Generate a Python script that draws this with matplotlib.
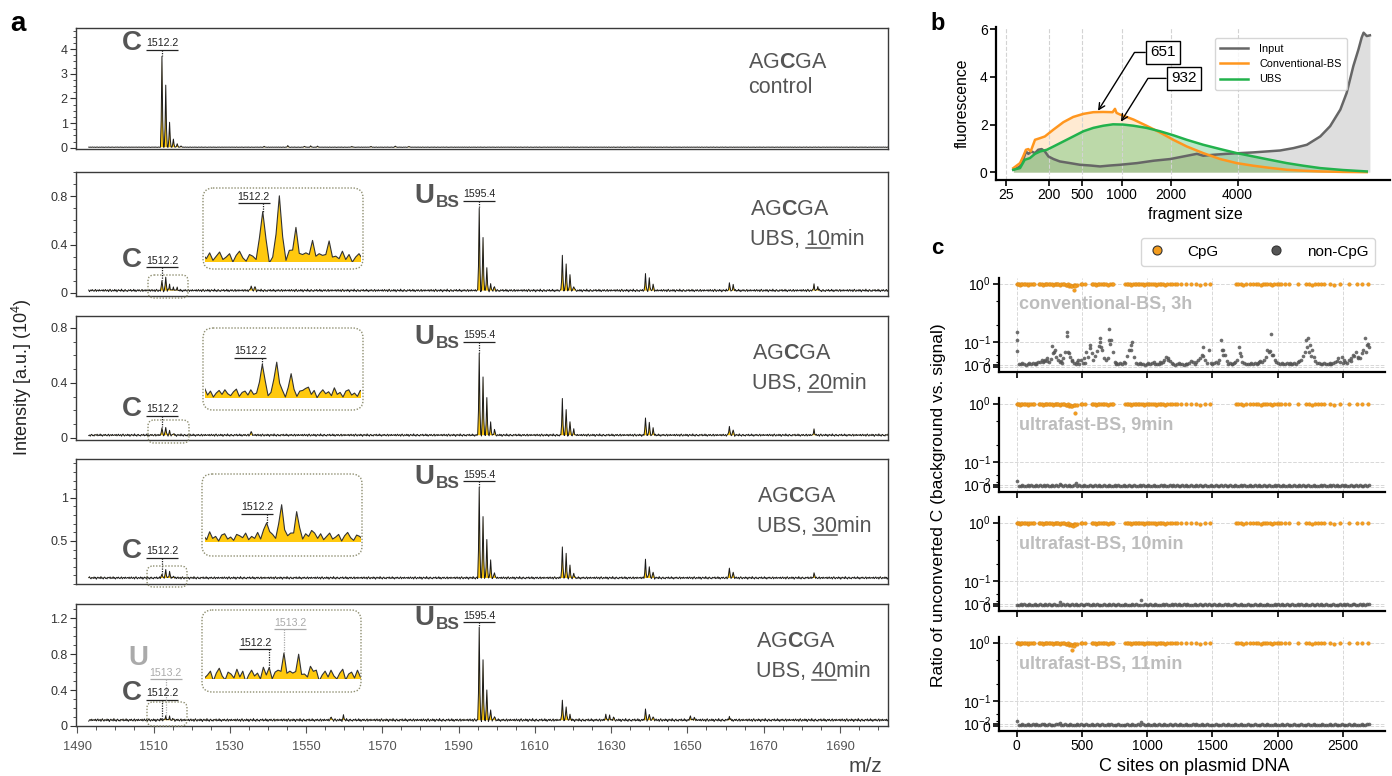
import numpy as np
import matplotlib
matplotlib.use('Agg')
import matplotlib.pyplot as plt
import matplotlib.transforms as mtransforms
from matplotlib.patches import FancyBboxPatch
from matplotlib.lines import Line2D
from matplotlib.ticker import FixedLocator, MultipleLocator, NullFormatter

plt.rcParams['font.family'] = ['Liberation Sans', 'DejaVu Sans']
plt.rcParams['mathtext.fontset'] = 'custom'
plt.rcParams['mathtext.rm'] = 'Liberation Sans'
plt.rcParams['mathtext.it'] = 'Liberation Sans:italic'
plt.rcParams['mathtext.bf'] = 'Liberation Sans:bold'

# ======================= DATA =======================
# ---- panel a : mass spectra (sampling grid, baseline texture, peak lists) ----
mz_start = 1493.0
mz_step = 0.2
mz_count = 1049
noise_pattern = [3, -2, 5, -4, 1, 6, -3, 0, 4, -6, 2, 7, -1, -5, 3, 1, -3, 6, -2, 4,
                 -7, 0, 5, -1, 2, -4, 8, -2, 1, -6, 3, 5, -3, 0, -5, 4, 2, -1, 6, -4,
                 1, -2, 7, -3, 3, -6, 0, 4, -2, 5, -1, -4, 2, 6, -5, 1, 3, -3, 5, -2, 0]
base_level = [0.02, 0.02, 0.02, 0.07, 0.065]
noise_amp = [0.012, 0.015, 0.012, 0.02, 0.022]

ctrl_mz = [1512.2, 1513.2, 1514.2, 1515.2, 1516.2, 1517.2, 1539.0, 1545.3, 1549.6, 1551.3,
           1553.0, 1562.0, 1567.0, 1573.5, 1577.0]
ctrl_h = [3.68, 2.52, 1.02, 0.33, 0.14, 0.05, 0.03, 0.06, 0.04, 0.05,
          0.04, 0.03, 0.03, 0.04, 0.03]
ubs10_mz = [1512.2, 1513.2, 1514.2, 1515.2, 1516.2, 1535.6, 1536.6, 1595.4, 1596.4, 1597.4,
            1598.4, 1599.4, 1617.3, 1618.3, 1619.3, 1620.3, 1639.1, 1640.1, 1641.1, 1660.9,
            1661.9, 1683.3, 1684.3]
ubs10_h = [0.085, 0.112, 0.052, 0.03, 0.02, 0.045, 0.035, 0.68, 0.44, 0.18,
           0.05, 0.035, 0.29, 0.22, 0.13, 0.04, 0.13, 0.10, 0.05, 0.06,
           0.045, 0.05, 0.03]
ubs20_mz = [1512.2, 1513.2, 1514.2, 1515.2, 1535.6, 1595.4, 1596.4, 1597.4, 1598.4, 1599.4,
            1617.3, 1618.3, 1619.3, 1620.3, 1639.1, 1640.1, 1641.1, 1660.9, 1661.9, 1683.3]
ubs20_h = [0.055, 0.06, 0.027, 0.012, 0.03, 0.60, 0.42, 0.27, 0.09, 0.04,
           0.26, 0.19, 0.10, 0.04, 0.13, 0.09, 0.05, 0.07, 0.04, 0.04]
ubs30_mz = [1512.2, 1513.2, 1514.2, 1515.2, 1595.4, 1596.4, 1597.4, 1598.4, 1599.4, 1617.3,
            1618.3, 1619.3, 1620.3, 1639.1, 1640.1, 1641.1, 1660.9, 1661.9, 1683.3]
ubs30_h = [0.055, 0.10, 0.075, 0.02, 1.06, 0.72, 0.44, 0.20, 0.07, 0.36,
           0.27, 0.14, 0.05, 0.21, 0.14, 0.07, 0.12, 0.07, 0.06]
ubs40_mz = [1512.2, 1513.2, 1514.2, 1515.2, 1556.6, 1559.8, 1595.4, 1596.4, 1597.4, 1598.4,
            1599.4, 1617.3, 1618.3, 1619.3, 1628.6, 1629.6, 1630.6, 1639.1, 1640.1, 1641.1,
            1650.7, 1651.7, 1660.9]
ubs40_h = [0.015, 0.05, 0.034, 0.015, 0.04, 0.05, 1.02, 0.66, 0.34, 0.12,
           0.04, 0.22, 0.16, 0.06, 0.06, 0.045, 0.03, 0.12, 0.07, 0.04,
           0.05, 0.03, 0.04]
c_peak = 1512.2
u_peak = 1513.2
ubs_peak = 1595.4
c_peak_label = '1512.2'
u_peak_label = '1513.2'
ubs_peak_label = '1595.4'
sample_seq = r'AG$\mathbf{C}$GA'
sample_cond = ['control', '10', '20', '30', '40']
a_ytick_vals = [[0, 1, 2, 3, 4], [0, 0.4, 0.8], [0, 0.4, 0.8], [0.5, 1.0], [0, 0.4, 0.8, 1.2]]
a_ytick_labels = [['0', '1', '2', '3', '4'], ['0', '0.4', '0.8'], ['0', '0.4', '0.8'],
                  ['0.5', '1'], ['0', '0.4', '0.8', '1.2']]
a_xticks = [1490, 1510, 1530, 1550, 1570, 1590, 1610, 1630, 1650, 1670, 1690]

# ---- panel b : fragment size traces (migration-time axis, ladder) ----
ladder_bp = [25, 200, 500, 1000, 2000, 4000]
ladder_t = [2.5, 13.5, 21.8, 31.9, 44.4, 61.3]
b_input_t = [4.4, 6.1, 6.9, 7.6, 8.2, 9.0, 9.9, 10.7, 11.6, 12.4,
             13.3, 14.6, 16.2, 18.8, 21.3, 23.9, 26.4, 29.0, 31.5, 35.8,
             40.0, 44.2, 47.6, 51.0, 52.6, 55.2, 58.5, 61.9, 65.3, 68.7,
             72.1, 75.5, 78.9, 82.3, 84.8, 87.4, 89.0, 90.7, 92.0, 92.8,
             93.3, 94.1, 94.9]
b_input_y = [0.10, 0.24, 0.52, 0.87, 0.77, 0.87, 0.80, 0.94, 0.97, 0.87,
             0.66, 0.55, 0.45, 0.38, 0.31, 0.28, 0.24, 0.28, 0.31, 0.38,
             0.48, 0.55, 0.66, 0.77, 0.69, 0.73, 0.77, 0.80, 0.83, 0.87,
             0.91, 1.01, 1.15, 1.50, 1.93, 2.63, 3.33, 4.46, 5.16, 5.65,
             5.86, 5.72, 5.75]
b_conv_t = [4.4, 6.1, 6.9, 7.6, 8.2, 8.8, 9.9, 11.2, 12.4, 14.6,
            17.1, 19.6, 22.2, 24.7, 27.2, 29.6, 30.2, 30.6, 31.5, 34.9,
            38.2, 41.6, 45.0, 48.4, 52.6, 56.9, 61.1, 65.3, 69.5, 73.8,
            78.0, 82.3, 88.0, 94.1]
b_conv_y = [0.17, 0.38, 0.66, 0.94, 0.97, 0.87, 1.36, 1.43, 1.50, 1.79,
            2.10, 2.32, 2.45, 2.52, 2.53, 2.52, 2.66, 2.49, 2.42, 2.21,
            1.95, 1.67, 1.36, 1.08, 0.80, 0.55, 0.38, 0.27, 0.18, 0.10,
            0.06, 0.03, 0.01, 0.0]
b_ubs_t = [4.4, 6.1, 7.3, 8.6, 9.9, 11.2, 12.9, 14.6, 17.1, 19.6,
           22.2, 24.7, 27.2, 29.7, 32.3, 34.9, 38.2, 41.6, 45.0, 48.4,
           52.6, 56.9, 61.1, 65.3, 69.5, 73.8, 78.0, 82.3, 88.0, 94.1]
b_ubs_y = [0.10, 0.17, 0.52, 0.59, 0.77, 0.87, 0.94, 1.08, 1.29, 1.50,
           1.72, 1.86, 1.95, 2.01, 2.00, 1.95, 1.86, 1.72, 1.55, 1.36,
           1.15, 0.97, 0.80, 0.66, 0.52, 0.38, 0.27, 0.17, 0.09, 0.03]
b_labels = ['Input', 'Conventional-BS', 'UBS']
mode_sizes = [651, 932]
mode_t = [25.9, 31.7]
mode_y = [2.58, 2.12]

# ---- panel c : unconverted-C ratio per C site ----
cpg_pos = np.array("""
2 10 18 27 35 44 52 61 75 88 97 110 124 135
170 182 191 203 214 222 235 244 256 268 277 290 301 312 320 333 342 355 366 378
384 392 401 410 418 427 436 448 460
490 503 522
575 588 597 609 620 634 645 658 671 684 697 712 728 741
830 842 855 866 880 893 905 918 930 941 954 967 979 992 1005 1018 1030 1043 1057 1070
1084 1096 1110 1125 1140 1156 1172 1190 1210 1228
1262 1297 1335 1372 1405 1445 1485
1683 1700 1722 1738 1760 1790 1810 1836 1851 1870 1888 1905 1921 1940 1958 1975 1992
2010 2030 2060 2090
2155 2222 2240 2262 2290 2310 2335 2355 2400 2430 2480
2548 2610 2650 2690
""".split(), float)
cpg_ratio_pct = np.array("""
98 97 99 96 98 100 97 99 98 96 99 97 98 100
97 99 98 96 99 97 100 98 97 99 96 98 97 99 98 95 97 99 98 96
94 97 92 95 90 93 96 94 96
98 97 99
97 99 98 96 98 97 99 100 98 97 96 98 99 97
98 97 99 98 96 98 100 97 99 98 97 99 96 98 97 99 98 100 97 96
98 99 97 98 96 99 97 98 97 99
98 97 99 98 96 98 97
97 99 98 96 98 97 99 98 97 96 98 99 97 98 96 99 97
98 97 99 98
97 99 98 96 98 97 99 98 97 96 98
98 97 99 97
""".split(), float)
cpg_extra_pos = [[436, 448], [448], [430, 445], [425, 440]]
cpg_extra_val = [[0.78, 0.90], [0.70], [0.88, 0.90], [0.75, 0.88]]

noncpg_pos = np.array("""
4 15 29 41 56 70 83 97 110 124
137 151 166 179 192 206 220 233 247 261
274 288 302 315 329 343 356 369 383 397
410 424 438 451 465 478 492 506 519 533
547 560 574 588 601 615 628 642 656 669
683 697 710 724 737 751 765 778 792 806
819 833 846 860 874 887 901 915 928 942
955 969 983 996 1010 1023 1037 1051 1064 1078
1092 1105 1119 1132 1146 1160 1173 1187 1200 1214
1228 1241 1255 1269 1282 1296 1309 1323 1337 1350
1364 1377 1391 1405 1418 1432 1446 1459 1473 1486
1500 1514 1527 1541 1554 1568 1582 1595 1609 1623
1636 1650 1663 1677 1691 1704 1718 1731 1745 1759
1772 1786 1800 1813 1827 1840 1854 1868 1881 1895
1908 1922 1936 1949 1963 1977 1990 2004 2017 2031
2045 2058 2072 2085 2099 2113 2126 2140 2154 2167
2181 2194 2208 2222 2235 2249 2262 2276 2290 2303
2317 2331 2344 2358 2371 2385 2399 2412 2426 2439
2453 2467 2480 2494 2508 2521 2535 2548 2562 2576
2589 2603 2616 2630 2644 2657 2671 2685 2698
""".split(), float)
conv_e3 = """
150 14 11 16 12 10 13 18 12 15
11 14 22 19 28 24 30 26 21 33
85 60 42 30 48 25 36 60 150 55
40 28 18 12 22 14 30 18 35 60
42 75 55 30 45 65 85 120 70 38
28 35 170 110 60 22 15 12 18 14
20 16 45 70 90 100 40 18 12 15
11 14 10 13 18 12 15 20 13 11
14 18 22 30 40 35 25 15 12 10
12 15 11 13 10 14 12 16 25 20
14 22 28 35 50 80 30 18 70 15
12 15 20 18 30 110 70 50 25 14
18 12 16 22 30 80 45 20 15 12
14 11 15 12 18 14 20 25 22 30
40 70 60 140 50 30 20 15 12 18
14 11 16 13 18 12 15 14 20 25
30 45 60 110 120 90 70 40 25 18
15 12 14 18 11 13 16 12 15 20
25 35 22 40 30 20 15 28 35 50
45 60 40 35 55 70 120 90 80
"""
ubs9_e3 = """
25 6 5 7 4 6 8 5 7 6
5 7 6 8 5 9 6 7 5 6
7 5 8 6 12 7 5 9 6 8
6 5 7 15 6 8 5 6 7 5
6 7 5 6 8 5 7 6 5 7
5 6 7 5 6 8 5 7 6 5
7 5 6 8 5 6 7 5 6 8
5 7 6 5 8 6 5 7 6 5
6 8 5 7 6 5 7 6 8 5
7 5 6 7 5 8 6 5 7 6
5 7 6 8 5 6 7 5 6 7
6 5 7 6 5 8 6 7 5 6
7 6 5 7 6 5 8 6 7 5
6 7 5 6 8 5 7 6 5 7
5 6 7 5 6 8 5 7 6 5
7 5 6 8 5 6 7 5 6 8
5 7 6 5 8 6 5 7 6 5
6 8 5 7 6 5 7 6 8 5
7 5 6 7 5 8 6 5 7 6
5 7 6 8 5 6 7 5 9
"""
ubs10_e3 = """
6 5 7 6 8 5 6 7 5 6
7 6 5 8 6 5 7 6 8 5
5 7 6 5 18 6 8 5 7 6
6 8 5 7 6 5 9 6 5 7
7 5 6 8 5 7 6 5 6 8
5 6 8 5 7 6 5 8 6 5
6 7 5 6 5 8 6 7 5 6
25 6 7 5 6 8 5 6 7 5
6 5 8 6 7 5 6 8 5 7
5 7 6 5 8 6 7 5 6 5
7 5 6 7 5 6 8 5 7 6
5 8 6 5 7 6 5 7 6 8
6 5 7 8 5 6 7 5 6 5
7 6 5 6 8 5 6 7 5 6
5 7 6 5 6 7 5 8 6 7
6 5 8 6 5 7 6 5 7 6
7 6 5 7 6 5 8 6 5 7
5 8 6 5 7 6 5 6 8 6
6 5 7 6 8 5 7 5 6 7
7 6 5 8 6 7 5 8 9
"""
ubs11_e3 = """
22 5 6 7 5 6 8 5 6 7
6 7 5 6 8 7 5 6 7 5
5 6 7 8 12 5 6 7 5 6
7 5 6 5 7 6 8 5 6 7
5 6 8 6 5 7 5 6 8 5
6 7 5 7 6 5 6 7 5 6
5 6 7 5 6 7 5 6 7 5
15 7 5 6 7 5 6 7 5 6
7 5 6 7 5 6 8 5 6 7
5 6 7 5 6 7 5 6 5 7
6 7 5 6 7 5 6 7 5 6
5 6 7 5 6 5 7 6 5 7
6 5 6 7 5 6 7 5 6 5
7 6 5 6 7 5 6 5 7 6
5 7 6 5 6 7 5 6 5 7
6 5 7 6 5 6 7 5 6 5
7 6 5 6 7 5 6 7 5 6
5 6 7 5 6 5 7 6 5 7
6 5 6 7 5 6 5 7 6 5
7 6 5 6 7 5 6 7 8
"""
conv_extra_pos = [4, 4, 280, 290, 383, 390, 560, 642, 650, 710,
                  715, 880, 1430, 1575, 1580, 1710, 1945, 1955, 2228, 2240,
                  2255, 2675, 2690, 150, 200, 230, 330, 350, 420, 470,
                  520, 760, 1100, 1160, 1300, 1650, 1850, 2100, 2400, 2500,
                  2560, 2620]
conv_extra_e3 = [110, 65, 55, 70, 130, 60, 90, 100, 80, 110,
                 95, 70, 45, 70, 50, 55, 65, 50, 80, 60,
                 45, 60, 95, 16, 20, 35, 22, 18, 24, 30,
                 15, 12, 20, 28, 11, 14, 16, 12, 14, 18,
                 25, 38]
c_titles = ['conventional-BS, 3h', 'ultrafast-BS, 9min', 'ultrafast-BS, 10min', 'ultrafast-BS, 11min']
c_xticks = [0, 500, 1000, 1500, 2000, 2500]

# ======================= FIGURE / LAYOUT =======================
W, H = 1392, 776
fig = plt.figure(figsize=(W / 100, H / 100), dpi=100)
PX = mtransforms.Affine2D().scale(1 / W, -1 / H).translate(0, 1) + fig.transFigure
R = fig.canvas.get_renderer()
PT = 0.72
YEL = '#ffc90e'
GR = '#555555'
BOXC = '#8e8e70'


def add_ax(l, t, r, b):
    return fig.add_axes([l / W, 1 - b / H, (r - l) / W, (b - t) / H])


def ftext(px, py, s, **kw):
    return fig.text(px / W, 1 - py / H, s, **kw)


def rbox(l, t, r, b, rad):
    p = FancyBboxPatch((l, t), r - l, b - t, boxstyle='round,pad=0,rounding_size=%g' % rad,
                       transform=PX, fill=False, ec=BOXC, lw=1.0, ls=(0, (1, 1.2)))
    fig.add_artist(p)


def text_width(s, size):
    t = fig.text(0, 0, s, fontsize=size)
    w = t.get_window_extent(renderer=R).width
    t.remove()
    return w


def cond_text(px, base_py, minutes, size, color):
    prefix = 'UBS, ' + minutes
    ftext(px, base_py, prefix + 'min', fontsize=size, color=color, ha='left', va='baseline')
    w_pre = text_width(prefix, size)
    w_num = text_width(minutes, size)
    x1 = px + w_pre
    x0 = x1 - w_num
    fig.add_artist(Line2D([x0, x1], [base_py + 3, base_py + 3], transform=PX, color=color, lw=1.1))


def peak_label(ax, xm, ul_y, top_y, txt, ppu, color='#222222', dx=0, hw=16, fs=7.6):
    xc = xm + dx / ppu
    ax.annotate(txt, xy=(xc, ul_y), xytext=(0, 1.2), textcoords='offset points', ha='center',
                va='bottom', fontsize=fs, color=color, annotation_clip=False)
    ax.plot([xc - hw / ppu, xc + hw / ppu], [ul_y, ul_y], color=color, lw=0.9, clip_on=False,
            solid_capstyle='butt')
    ax.plot([xm, xm], [ul_y, top_y], color=color, lw=0.9, ls=(0, (1, 1)), clip_on=False)


def sized(pos, vals):
    n = min(len(pos), len(vals))
    return np.asarray(pos, float)[:n], np.asarray(vals, float)[:n]


# ---------------- panel a ----------------
mz = mz_start + mz_step * np.arange(mz_count)
noise_arr = np.array(noise_pattern, float) / 10.0
peak_sets = [(ctrl_mz, ctrl_h), (ubs10_mz, ubs10_h), (ubs20_mz, ubs20_h),
             (ubs30_mz, ubs30_h), (ubs40_mz, ubs40_h)]


def build_spectrum(k):
    pm, ph = peak_sets[k]
    y = base_level[k] + noise_amp[k] * np.resize(np.roll(noise_arr, 17 * k), mz_count)
    for m, h in zip(pm, ph):
        i = int(round((m - mz_start) / mz_step))
        y[i] += h
        y[i - 1] += 0.3 * h
        y[i + 1] += 0.3 * h
    return y


def top_at(y, m):
    return y[int(round((m - mz_start) / mz_step))]


a_boxes = [(76, 28, 888, 149), (76, 172, 888, 296), (76, 316, 888, 440),
           (76, 459, 888, 584), (76, 604, 888, 726)]
a_ylims = [(-0.053, 4.86), (-0.025, 1.0), (-0.015, 0.887), (0.0, 1.45), (0.0, 1.356)]
a_minor = [0.25, 0.1, 0.1, 0.1, 0.1]
a_xlim = (1489.66, 1702.6)
ppu_a = (888 - 76) / (a_xlim[1] - a_xlim[0])
c_ul = [3.97, 0.212, 0.16, 0.30, 0.29]
ubs_ul = [None, 0.763, 0.70, 1.19, 1.152]
u_ul = 0.52
text_x = [748, 750, 752, 757, 756]
cbox = [None, (148, 275, 188, 298), (148, 420, 189, 443), (147, 566, 187, 587), (147, 702, 187, 726)]
ins_box = [None, (203, 188, 363, 269), (203, 328, 363, 410), (202, 474, 362, 556), (202, 610, 361, 692)]
ins_area = [None, (205, 190, 361, 262), (205, 335, 361, 398), (205, 478, 361, 542), (205, 612, 361, 679)]
ins_xlim = [None, (1508.72, 1518.12), (1508.22, 1519.05), (1508.09, 1518.49), (1507.83, 1518.44)]
ins_ylim = [None, (0.011, 0.141), (0.011, 0.126), (0.055, 0.249), (0.056, 0.208)]
ins_ul = [None, 0.117, 0.084, 0.14, 0.123]
ins_dx = [None, -9, -12, -9.5, -14]

for k in range(5):
    l, t, r, b = a_boxes[k]
    ax = add_ax(l, t, r, b)
    y = build_spectrum(k)
    ax.fill_between(mz, base_level[k], y, where=y > base_level[k], interpolate=True,
                    color=YEL, lw=0)
    ax.plot(mz, y, color='#1a1a1a', lw=0.7)
    ax.set_xlim(*a_xlim)
    ax.set_ylim(*a_ylims[k])
    for s in ax.spines.values():
        s.set_color('#3a3a3a')
        s.set_linewidth(1.0)
    ax.set_yticks(a_ytick_vals[k])
    ax.set_yticklabels(a_ytick_labels[k])
    ax.yaxis.set_minor_locator(MultipleLocator(a_minor[k]))
    ax.tick_params(axis='y', which='major', labelsize=9, colors='#333333', length=4, width=0.8,
                   pad=2)
    ax.tick_params(axis='y', which='minor', length=2.2, width=0.6, colors='#333333')
    if k < 4:
        ax.set_xticks([])
    else:
        ax.set_xticks(a_xticks)
        ax.xaxis.set_minor_locator(MultipleLocator(5))
        ax.tick_params(axis='x', which='major', labelsize=9.3, colors='#555555', length=5,
                       width=0.8, pad=6)
        ax.tick_params(axis='x', which='minor', length=3, width=0.7, colors='#555555')

    # C label
    peak_label(ax, c_peak, c_ul[k], top_at(y, c_peak) + 0.004 * (a_ylims[k][1]), c_peak_label, ppu_a)
    ax.annotate('C', xy=(c_peak, c_ul[k]), xytext=(-20 * PT, 0), textcoords='offset points',
                ha='right', va='baseline', fontsize=20, fontweight='bold', color=GR,
                annotation_clip=False)
    if k == 4:
        peak_label(ax, u_peak, u_ul, top_at(y, u_peak), u_peak_label, ppu_a, color='#aaaaaa')
        ax.annotate('U', xy=(u_peak, u_ul), xytext=(-17.3 * PT, 14 * PT),
                    textcoords='offset points', ha='right', va='baseline', fontsize=20,
                    fontweight='bold', color='#aaaaaa', annotation_clip=False)
    if k > 0:
        peak_label(ax, ubs_peak, ubs_ul[k], top_at(y, ubs_peak), ubs_peak_label, ppu_a)
        ax.annotate('U', xy=(ubs_peak, ubs_ul[k]), xytext=(-45 * PT, -2.6 * PT),
                    textcoords='offset points', ha='right', va='baseline', fontsize=20,
                    fontweight='bold', color=GR, annotation_clip=False)
        ax.annotate('BS', xy=(ubs_peak, ubs_ul[k]), xytext=(-43.6 * PT, -6.6 * PT),
                    textcoords='offset points', ha='left', va='baseline', fontsize=12.4,
                    fontweight='bold', color=GR, annotation_clip=False)
        rbox(*cbox[k], 6)
        rbox(*ins_box[k], 10)
        # inset
        il, it, ir, ib = ins_area[k]
        axi = add_ax(il, it, ir, ib)
        axi.set_xlim(*ins_xlim[k])
        axi.set_ylim(*ins_ylim[k])
        axi.axis('off')
        axi.fill_between(mz, ins_ylim[k][0], y, color=YEL, lw=0)
        axi.plot(mz, y, color='#333333', lw=0.8)
        ppu_i = (ir - il) / (ins_xlim[k][1] - ins_xlim[k][0])
        peak_label(axi, c_peak, ins_ul[k], top_at(y, c_peak), c_peak_label, ppu_i, dx=ins_dx[k])
        if k == 4:
            peak_label(axi, u_peak, 0.169, top_at(y, u_peak), u_peak_label, ppu_i,
                       color='#aaaaaa', dx=6)

    # sample description
    base1 = t + (40 if k == 0 else 43)
    base2 = t + (65 if k == 0 else 73)
    ftext(text_x[k], base1, sample_seq, fontsize=15.5, color=GR, ha='left', va='baseline')
    if k == 0:
        ftext(text_x[k], base2, sample_cond[0], fontsize=15.5, color=GR, ha='left', va='baseline')
    else:
        cond_text(text_x[k], base2, sample_cond[k], 15.5, GR)

ftext(22, 377, r'Intensity [a.u.] (10$^4$)', rotation=90, ha='center', va='center',
      fontsize=13, color='#222222')
ftext(865, 772, 'm/z', ha='center', va='baseline', fontsize=15, color='#444444')
ftext(10, 31, 'a', fontsize=20, fontweight='bold', va='baseline', ha='left')

# ---------------- panel b ----------------
axb = add_ax(996, 27, 1390, 180)
axb.fill_between(b_input_t, 0, b_input_y, color='#8a8a8a', alpha=0.28, lw=0)
axb.fill_between(b_conv_t, 0, b_conv_y, color='#ff9a1f', alpha=0.2, lw=0)
axb.fill_between(b_ubs_t, 0, b_ubs_y, color='#22b24c', alpha=0.3, lw=0)
l1, = axb.plot(b_input_t, b_input_y, color='#666666', lw=1.8)
l2, = axb.plot(b_conv_t, b_conv_y, color='#ff961e', lw=1.8)
l3, = axb.plot(b_ubs_t, b_ubs_y, color='#22b24c', lw=1.8)
axb.set_xlim(0, 100)
axb.set_ylim(-0.33, 6.1)
axb.set_xticks(ladder_t)
axb.set_xticklabels([str(v) for v in ladder_bp])
axb.set_yticks([0, 2, 4, 6])
axb.grid(axis='x', ls='--', color='#d3d3d3', lw=0.8)
for s in ['top', 'right']:
    axb.spines[s].set_visible(False)
for s in ['left', 'bottom']:
    axb.spines[s].set_linewidth(1.6)
axb.tick_params(labelsize=10, length=4, width=1.2, pad=2)
axb.legend([l1, l2, l3], b_labels, loc='center', bbox_to_anchor=((1281 - 996) / 394, 1 - (64 - 27) / 153),
           fontsize=7.8, frameon=True, edgecolor='#cccccc', fancybox=True, handlelength=2.6,
           borderpad=0.5, labelspacing=0.5, handletextpad=1.0)
box_xy = [(42.4, 5.03), (47.7, 3.94)]
for v, tt, yy, (bx, by) in zip(mode_sizes, mode_t, mode_y, box_xy):
    axb.annotate(str(v), xy=(tt, yy), xytext=(bx, by), ha='center', va='center', fontsize=11,
                 bbox=dict(boxstyle='square,pad=0.3', fc='white', ec='black', lw=1.0),
                 arrowprops=dict(arrowstyle='->', color='black', lw=1.0, shrinkA=0, shrinkB=0,
                                 connectionstyle='angle,angleA=0,angleB=58,rad=0'))
ftext(962, 103, 'fluorescence', rotation=90, ha='center', va='center', fontsize=11.3)
ftext(1195, 219, 'fragment size', ha='center', va='baseline', fontsize=11.3)
ftext(930, 30, 'b', fontsize=17, fontweight='bold', va='baseline', ha='left')

# ---------------- panel c ----------------
c_tops = [278, 398, 517, 637]
c_bots = [372, 492, 611, 731]
noncpg_sets = [conv_e3, ubs9_e3, ubs10_e3, ubs11_e3]
CPGC = '#f39c1e'
NCC = '#555555'
for k in range(4):
    ax = add_ax(999, c_tops[k], 1385, c_bots[k])
    ax.set_yscale('symlog', linthresh=0.1, linscale=0.38)
    px_, vy_ = sized(noncpg_pos, np.array(noncpg_sets[k].split(), float) / 1000.0)
    ax.scatter(px_, vy_, s=7, color=NCC, alpha=0.85, lw=0, zorder=3)
    if k == 0:
        ex_, ey_ = sized(conv_extra_pos, np.array(conv_extra_e3) / 1000.0)
        ax.scatter(ex_, ey_, s=7, color=NCC, alpha=0.85, lw=0, zorder=3)
    cx_, cy_ = sized(cpg_pos, cpg_ratio_pct / 100.0)
    ax.scatter(cx_, cy_, s=7, color=CPGC, edgecolor='#d07f10', lw=0.2, zorder=3)
    ax.scatter(cpg_extra_pos[k], cpg_extra_val[k], s=7, color=CPGC, edgecolor='#d07f10',
               lw=0.2, zorder=3)
    ax.set_xlim(-136, 2824)
    ax.set_ylim(-0.02, 1.25)
    ax.set_yticks([0, 0.01, 0.1, 1])
    ax.set_yticklabels(['0', r'$10^{-2}$', r'$10^{-1}$', r'$10^{0}$'])
    for lab, dy in zip(ax.get_yticklabels(), [0, 0, 0, 0]):
        pass
    ax.yaxis.set_minor_locator(FixedLocator([0.02, 0.05, 0.2, 0.5]))
    ax.yaxis.set_minor_formatter(NullFormatter())
    ax.set_xticks(c_xticks)
    if k < 3:
        ax.set_xticklabels([])
    ax.grid(True, which='major', ls='--', color='#d8d8d8', lw=0.7)
    for s in ['top', 'right']:
        ax.spines[s].set_visible(False)
    for s in ['left', 'bottom']:
        ax.spines[s].set_linewidth(1.6)
    ax.tick_params(which='major', labelsize=10, length=4, width=1.2, pad=2)
    ax.tick_params(which='minor', length=2.5, width=0.8)
    ftext(1019, c_tops[k] + 27, c_titles[k], ha='left', va='center', fontsize=13,
          fontweight='bold', color='#bdbdbd')

hs = [Line2D([], [], ls='', marker='o', ms=6.5, mfc=CPGC, mec='#333333', mew=0.8),
      Line2D([], [], ls='', marker='o', ms=6.5, mfc=NCC, mec='#333333', mew=0.8)]
fig.legend(hs, ['CpG', 'non-CpG'], ncol=2, loc='center', bbox_to_anchor=(1258 / W, 1 - 251.7 / H),
           fontsize=11, frameon=True, edgecolor='#cccccc', handlelength=1.2, handletextpad=1.4,
           columnspacing=3.2, borderpad=0.45)
ftext(939, 505, 'Ratio of unconverted C (background vs. signal)', rotation=90, ha='center',
      va='center', fontsize=12.5)
ftext(1194, 771, 'C sites on plasmid DNA', ha='center', va='baseline', fontsize=13)
ftext(931, 254, 'c', fontsize=16, fontweight='bold', va='baseline', ha='left')

fig.savefig('out.png', dpi=100)
